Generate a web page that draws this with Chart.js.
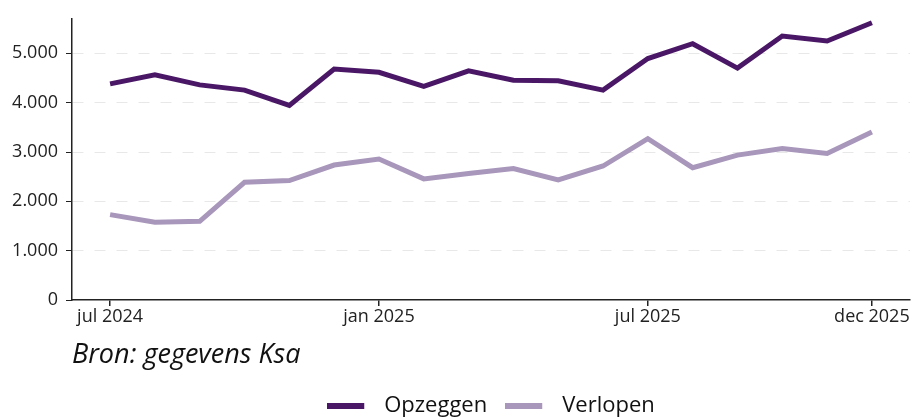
<!DOCTYPE html>
<html>
<head>
<meta charset="utf-8">
<script src="https://cdn.jsdelivr.net/npm/chart.js@4"></script>
<style>
  html, body { margin: 0; padding: 0; background: #fff; }
  #wrap { width: 913px; height: 417px; }
</style>
</head>
<body>
<div id="wrap"><canvas id="grafiek"></canvas></div>
<script>
// maanden jul 2024 .. dec 2025
const maanden = ["jul 2024","aug 2024","sep 2024","okt 2024","nov 2024","dec 2024",
                 "jan 2025","feb 2025","mrt 2025","apr 2025","mei 2025","jun 2025",
                 "jul 2025","aug 2025","sep 2025","okt 2025","nov 2025","dec 2025"];
const opzeggen = [4380,4565,4360,4255,3945,4680,4615,4330,4645,4455,4445,4255,4895,5195,4700,5350,5250,5620];
const verlopen = [1730,1575,1595,2386,2420,2736,2857,2455,2565,2665,2434,2716,3271,2682,2937,3070,2970,3406];
const xTickIdx = [0, 6, 12, 17];
const yTicks = [0, 1000, 2000, 3000, 4000, 5000];

const FONT = "'Open Sans', sans-serif";
const donker = "#4a1766";
const licht = "#a896bb";

const nl = (v) => v.toLocaleString("nl-NL");

// legend swatch: thick line with some empty room to the right
function streep(kleur) {
  const c = document.createElement("canvas");
  c.width = 46; c.height = 6;
  const ctx = c.getContext("2d");
  ctx.fillStyle = kleur;
  ctx.fillRect(0, 0, 37, 6);
  return c;
}

new Chart(document.getElementById("grafiek"), {
  type: "line",
  data: {
    datasets: [
      { label: "Opzeggen", data: opzeggen.map((v, i) => ({ x: i, y: v })),
        borderColor: donker, backgroundColor: donker, borderWidth: 5,
        pointRadius: 0, tension: 0, borderJoinStyle: "miter", pointStyle: streep(donker) },
      { label: "Verlopen", data: verlopen.map((v, i) => ({ x: i, y: v })),
        borderColor: licht, backgroundColor: licht, borderWidth: 5,
        pointRadius: 0, tension: 0, borderJoinStyle: "miter", pointStyle: streep(licht) }
    ]
  },
  options: {
    responsive: true,
    maintainAspectRatio: false,
    animation: false,
    layout: { padding: { top: 16, right: 3, left: 0, bottom: -10 } },
    scales: {
      x: {
        type: "linear",
        min: -0.85, max: 17.85,
        afterBuildTicks: (ax) => { ax.ticks = xTickIdx.map(v => ({ value: v })); },
        border: { display: true, color: "#222", width: 1.5 },
        grid: { drawOnChartArea: false, drawTicks: true, tickLength: 6, color: "#222", lineWidth: 1.5 },
        ticks: {
          autoSkip: false, maxRotation: 0, padding: 0,
          color: "#222", font: { family: FONT, size: 18 },
          callback: (v) => maanden[v] || ""
        }
      },
      y: {
        min: 0, max: 5700,
        afterBuildTicks: (ax) => { ax.ticks = yTicks.map(v => ({ value: v })); },
        afterFit: (ax) => { ax.width = 72; },
        border: { display: true, color: "#222", width: 1.5, dash: [11, 11] },
        grid: {
          drawTicks: true, tickLength: 6, lineWidth: 1,
          color: (c) => c.tick && c.tick.value === 0 ? "rgba(0,0,0,0)" : "#e8e8e8",
          tickColor: "#222"
        },
        ticks: {
          padding: 8, color: "#222", font: { family: FONT, size: 18 },
          callback: (v) => nl(v)
        }
      }
    },
    plugins: {
      tooltip: { enabled: false },
      title: {
        display: true, text: "Bron: gegevens Ksa", position: "bottom",
        align: "start", fullSize: false,
        color: "#111", font: { family: FONT, size: 27, style: "italic", weight: "normal" },
        padding: { top: 12, bottom: 5 }
      },
      legend: {
        position: "bottom", weight: 3000, fullSize: false,
        labels: {
          usePointStyle: true, pointStyleWidth: 46, boxHeight: 6, padding: 18,
          color: "#111", font: { family: FONT, size: 22 }
        }
      }
    }
  }
});
</script>
</body>
</html>
